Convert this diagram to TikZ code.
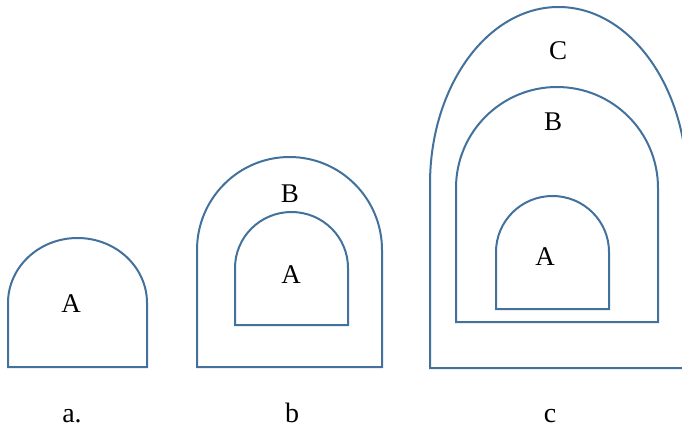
\documentclass[tikz,border=0pt]{standalone}
\usepackage{fontspec}
\setmainfont{Liberation Serif}
\definecolor{archblue}{HTML}{41719C}
\tikzset{
  archline/.style={draw=archblue,line width=2pt,line join=miter},
  zonelabel/.style={anchor=base,inner sep=0pt,font=\fontsize{27}{29}\selectfont},
  caption/.style={anchor=base,inner sep=0pt,font=\fontsize{28}{30}\selectfont}
}
\begin{document}
\begin{tikzpicture}[x=1pt,y=1pt]
    \useasboundingbox (0,0) rectangle (682,429);
    % arches: left/right/bottom/springline/rise
    \foreach \l/\r/\b/\s/\ry in {8/147/62/126/65,
        197/382/62/179/93, 235/348/104/161/56,
        430/687/61/245/177, 456/658/107/241/101, 496/609/120/177/56}
      \draw[archline] (\l,\b) -- (\l,\s)
        arc[start angle=180,end angle=0,x radius={(\r-\l)/2},y radius=\ry]
        -- (\r,\b) -- cycle;
    \node[zonelabel] (aA) at (71,117) {A};
    \node[zonelabel] (bB) at (290,227) {B};
    \node[zonelabel] (bA) at (291,146) {A};
    \node[zonelabel] (cC) at (558,369) {C};
    \node[zonelabel] (cB) at (553,298) {B};
    \node[zonelabel] (cA) at (545,164) {A};
    \node[caption] (capa) at (72,7) {a.};
    \node[caption] (capb) at (292,7) {b};
    \node[caption] (capc) at (550,7) {c};
\end{tikzpicture}
\end{document}
